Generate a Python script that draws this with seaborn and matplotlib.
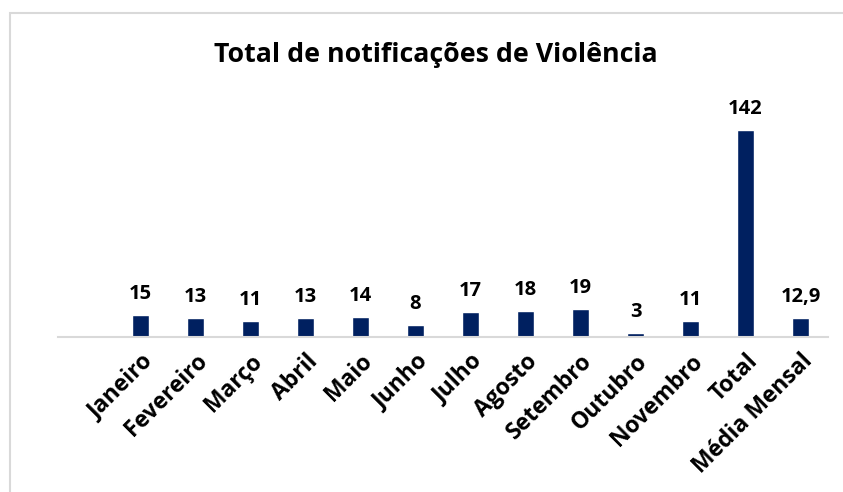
"""Bar chart: Total de notificações de Violência."""

import matplotlib

matplotlib.use("Agg")
import matplotlib.pyplot as plt
import pandas as pd
import seaborn as sns
from matplotlib.patches import Rectangle

MONTHS = [
    "Janeiro", "Fevereiro", "Março", "Abril", "Maio", "Junho", "Julho",
    "Agosto", "Setembro", "Outubro", "Novembro", "Total", "Média Mensal",
]
VALUES = [15, 13, 11, 13, 14, 8, 17, 18, 19, 3, 11, 142, 12.9]
LABELS = ["15", "13", "11", "13", "14", "8", "17", "18", "19", "3", "11", "142", "12,9"]

BAR_COLOR = "#002060"
GRID_GREY = "#d9d9d9"


def main() -> None:
    sns.set_style("white")
    plt.rcParams["font.family"] = ["Open Sans", "DejaVu Sans"]
    plt.rcParams["text.color"] = "black"
    plt.rcParams["xtick.color"] = "black"

    df = pd.DataFrame({"mes": MONTHS, "valor": VALUES})

    fig = plt.figure(figsize=(8.43, 4.92), dpi=100)
    fig.patches.append(
        Rectangle((10 / 843, -0.1), 1.2, 1 - 13 / 492 + 0.1,
                  transform=fig.transFigure, fill=False,
                  edgecolor=GRID_GREY, linewidth=1.5)
    )
    ax = fig.add_axes([58 / 843, 155 / 492, 770 / 843, 233 / 492])

    sns.barplot(data=df, x="mes", y="valor", color=BAR_COLOR, width=0.31,
                saturation=1, ax=ax)

    ax.set_xlim(-1.5, 12.5)
    ax.set_ylim(0, 160)
    for spine in ["top", "right", "left"]:
        ax.spines[spine].set_visible(False)
    ax.spines["bottom"].set_color(GRID_GREY)
    ax.spines["bottom"].set_linewidth(1.5)
    ax.set_yticks([])
    ax.set_xlabel("")
    ax.set_ylabel("")
    ax.tick_params(axis="x", length=0, pad=9)
    ax.set_xticks(range(len(MONTHS)))
    ax.set_xticklabels(MONTHS, rotation=45, ha="right", rotation_mode="anchor",
                       fontsize=16.5, fontweight="bold", color="black")

    for container in ax.containers:
        ax.bar_label(container, labels=LABELS, padding=8, fontsize=14.5,
                     fontweight="bold", color="black")

    fig.text(436 / 843, 1 - 55 / 492, "Total de notificações de Violência",
             ha="center", va="center", fontsize=19.3, fontweight="bold",
             color="black")

    fig.savefig("out.png", dpi=100)
    plt.close(fig)


if __name__ == "__main__":
    main()
